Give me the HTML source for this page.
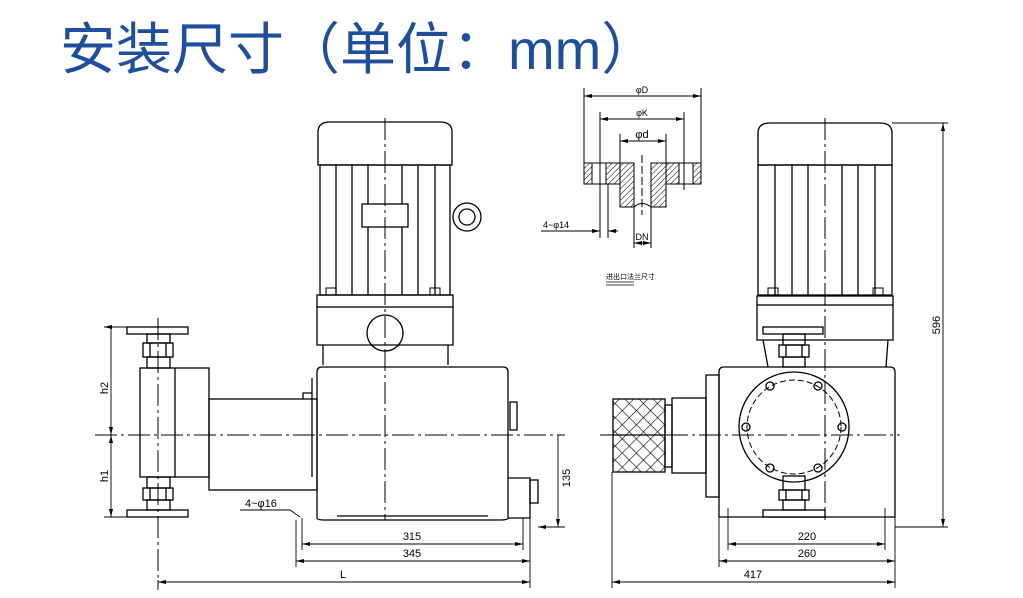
<!DOCTYPE html>
<html><head><meta charset="utf-8"><style>
html,body{margin:0;padding:0;background:#fff;}
svg{display:block}
.t{font-family:"Liberation Sans","Noto Sans CJK SC",sans-serif;}
</style></head><body>
<svg width="1023" height="598" viewBox="0 0 1023 598" xmlns="http://www.w3.org/2000/svg">
<defs>
<pattern id="h" width="4" height="4" patternUnits="userSpaceOnUse" patternTransform="rotate(45)"><line x1="0" y1="0" x2="0" y2="4" stroke="#000" stroke-width="1"/></pattern>
<pattern id="x" width="10" height="10" patternUnits="userSpaceOnUse" patternTransform="rotate(45)"><path d="M0 0H10M0 0V10" stroke="#000" stroke-width="1.2" fill="none"/></pattern>
<marker id="a" markerWidth="8" markerHeight="6" refX="8" refY="3" orient="auto-start-reverse" markerUnits="userSpaceOnUse"><path d="M0 1L8 3L0 5Z" fill="#000"/></marker>
</defs>
<text x="60" y="69" class="t" font-size="56" fill="#1d4f9c">安装尺寸（单位：mm）</text>

<g fill="none" stroke="#000" stroke-width="1.3">
<path d="M318 165V132Q318 122 330 122H440Q452 122 452 132V165Z"/>
<rect x="320" y="165" width="130" height="130"/>
<path d="M336 165V295M352 165V295M368 165V295M402 165V295M418 165V295M435 165V295"/>
<rect x="362" y="204" width="46" height="23" fill="#fff"/>
<circle cx="467" cy="217" r="14"/><circle cx="467" cy="217" r="8"/>
<rect x="317" y="295" width="136" height="12"/>
<path d="M317 307V345H453V307M323 345V365M448 345V365"/>
<circle cx="385" cy="333" r="18"/>
<path d="M326 288h10v7h-10zM430 288h10v7h-10z" stroke-width="1"/>
<path d="M317 518V372Q317 367 322 367H503Q508 367 508 372V518Q508 520 500 520H325Q317 520 317 518Z"/>
<path d="M508 478H530V518H508"/>
<rect x="530" y="480" width="8" height="23"/>
<rect x="510" y="402" width="7" height="28"/>
<path d="M337 516H488"/>
<path d="M312 378V477" />
<rect x="209" y="399" width="108" height="91"/>
<path d="M303 399V393H312"/>
<rect x="140" y="368" width="69" height="109"/>
<path d="M175 368V477"/>
<rect x="127" y="327" width="61" height="7"/>
<rect x="147" y="334" width="23" height="9"/>
<rect x="143" y="343" width="30" height="14"/>
<path d="M150 343V357M166 343V357"/>
<rect x="147" y="357" width="23" height="11"/>
<rect x="147" y="477" width="23" height="11"/>
<rect x="143" y="488" width="30" height="12"/>
<path d="M150 488V500M166 488V500"/>
<rect x="147" y="500" width="23" height="10"/>
<rect x="127" y="510" width="61" height="7"/>
</g>
<g stroke="#000" stroke-width="1" fill="none" stroke-dasharray="22 4 3 4">
<path d="M385 118V520M158 318V590M95 435H565M825 118V520M600 435H900"/>
</g>
<g stroke="#000" stroke-width="0.9" fill="none">
<path d="M104 327H127M104 517H127M111 327V435" marker-start="url(#a)" marker-end="url(#a)"/>
<path d="M111 435V517" marker-start="url(#a)" marker-end="url(#a)"/>
<path d="M538 527H565M558 435V527" marker-start="url(#a)" marker-end="url(#a)"/>
<path d="M302 518V550M523 518V550M296 520V567M530 505V588M158 580V588"/>
<path d="M302 544H523" marker-start="url(#a)" marker-end="url(#a)"/>
<path d="M296 561H530" marker-start="url(#a)" marker-end="url(#a)"/>
<path d="M158 582H530" marker-start="url(#a)" marker-end="url(#a)"/>
<path d="M240 510H290L300 517"/>
</g>
<g class="t" font-size="11" fill="#000">
<text x="108" y="388" transform="rotate(-90 108 388)" text-anchor="middle">h2</text>
<text x="108" y="476" transform="rotate(-90 108 476)" text-anchor="middle">h1</text>
<text x="570" y="478" transform="rotate(-90 570 478)" text-anchor="middle">135</text>
<text x="412" y="540" text-anchor="middle">315</text>
<text x="412" y="557" text-anchor="middle">345</text>
<text x="343" y="578" text-anchor="middle">L</text>
<text x="245" y="507">4~φ16</text>
</g>

<g fill="none" stroke="#000" stroke-width="1.3">
<path d="M758 165V133Q758 123 770 123H880Q892 123 892 133V165Z"/>
<rect x="758" y="165" width="134" height="130"/>
<path d="M775 165V295M792 165V295M808 165V295M842 165V295M858 165V295M875 165V295"/>
<path d="M768 288h10v7h-10zM873 288h10v7h-10z" stroke-width="1"/>
<rect x="757" y="296" width="136" height="9"/>
<path d="M757 305V340H893V305M763 340L768 367M888 340L886 367"/>
<rect x="763" y="327" width="60" height="7"/>
<rect x="783" y="334" width="22" height="11"/>
<rect x="779" y="345" width="30" height="12"/>
<path d="M786 345V357M802 345V357"/>
<rect x="783" y="357" width="22" height="10"/>
<path d="M719 517V372Q719 367 724 367H890Q895 367 895 372V517Z"/>
<rect x="706" y="375" width="13" height="122"/>
<rect x="672" y="398" width="34" height="75"/>
<rect x="665" y="405" width="7" height="62"/>
<rect x="613" y="399" width="52" height="73" fill="url(#x)"/>
<path d="M613 435H665"/>
<circle cx="794" cy="427" r="55"/>
<circle cx="794" cy="427" r="47" stroke-dasharray="6 3" stroke-width="1"/>
<circle cx="770" cy="386" r="4"/><circle cx="818" cy="386" r="4"/>
<circle cx="746" cy="427" r="4"/><circle cx="842" cy="427" r="4"/>
<circle cx="770" cy="468" r="4"/><circle cx="818" cy="468" r="4"/>
<rect x="783" y="476" width="22" height="14"/>
<rect x="779" y="490" width="30" height="10"/>
<path d="M786 490V500M802 490V500"/>
<rect x="783" y="500" width="22" height="10"/>
<rect x="763" y="510" width="62" height="7"/>
</g>
<g stroke="#000" stroke-width="0.9" fill="none">
<path d="M892 123H948M895 527H948"/>
<path d="M943 123V527" marker-start="url(#a)" marker-end="url(#a)"/>
<path d="M728 508V550M885 508V550M719 517V567M895 517V588M612 472V588"/>
<path d="M728 544H885" marker-start="url(#a)" marker-end="url(#a)"/>
<path d="M719 561H895" marker-start="url(#a)" marker-end="url(#a)"/>
<path d="M612 582H895" marker-start="url(#a)" marker-end="url(#a)"/>
</g>
<g class="t" font-size="11" fill="#000">
<text x="940" y="325" transform="rotate(-90 940 325)" text-anchor="middle">596</text>
<text x="807" y="540" text-anchor="middle">220</text>
<text x="807" y="557" text-anchor="middle">260</text>
<text x="753" y="578" text-anchor="middle">417</text>
</g>

<g stroke="#000" stroke-width="1" fill="none">
<rect x="584" y="163" width="36" height="21" fill="url(#h)"/>
<rect x="666" y="163" width="35" height="21" fill="url(#h)"/>
<rect x="620" y="163" width="14" height="44" fill="url(#h)"/>
<rect x="651" y="163" width="15" height="44" fill="url(#h)"/>
<rect x="592" y="163" width="14" height="21" fill="#fff"/>
<rect x="679" y="163" width="14" height="21" fill="#fff"/>
<path d="M634 207Q642 200 651 207"/>
<path d="M584 88V163M701 88V163M600 112V238M684 112V190M620 134V163M666 134V163M608 184V238M634 207V248M651 207V248"/>
<path d="M584 96H701" marker-start="url(#a)" marker-end="url(#a)"/>
<path d="M600 119H684" marker-start="url(#a)" marker-end="url(#a)"/>
<path d="M620 141H666" marker-start="url(#a)" marker-end="url(#a)"/>
<path d="M634 243H651" marker-start="url(#a)" marker-end="url(#a)"/>
<path d="M541 231H600" marker-end="url(#a)"/>
<path d="M618 231H608" marker-end="url(#a)"/>
<path d="M642 155V215" stroke-dasharray="8 3"/>
<path d="M606 282H634M606 285H634" stroke-width="0.7"/>
</g>
<g class="t" font-size="9" fill="#000">
<text x="642" y="93" text-anchor="middle">φD</text>
<text x="642" y="116" text-anchor="middle">φK</text>
<text x="642" y="138" text-anchor="middle" font-size="11">φd</text>
<text x="543" y="228">4~φ14</text>
<text x="642" y="240" text-anchor="middle">DN</text>
<text x="606" y="279" font-size="7">进出口法兰尺寸</text>
</g>
</svg>
</body></html>
